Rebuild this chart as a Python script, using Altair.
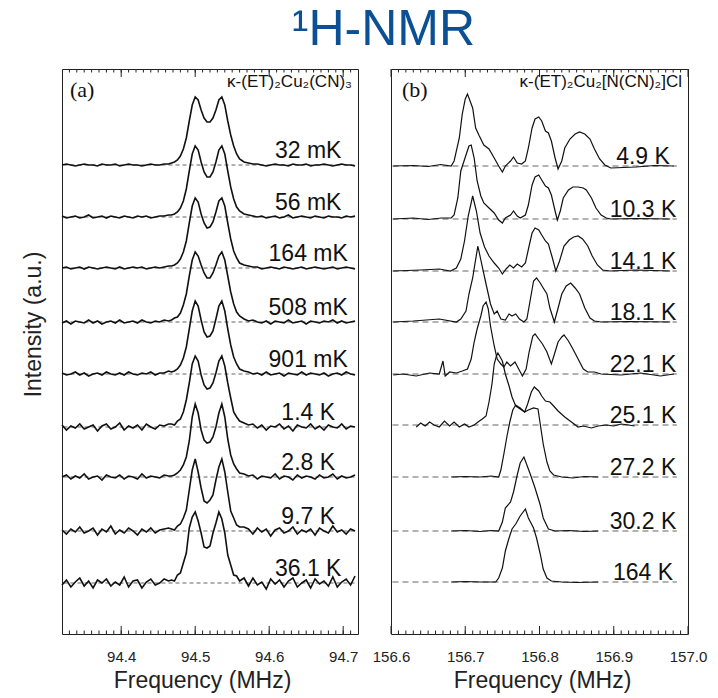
import altair as alt
import pandas as pd

FONT = "Liberation Sans"
INK = "#111111"
H = 565          # plot height (y units == pixels)
WA, WB = 296, 297

# ---------------- panel (a): kappa-(ET)2Cu2(CN)3 ----------------
A_LABELS = ["32 mK", "56 mK", "164 mK", "508 mK", "901 mK", "1.4 K", "2.8 K", "9.7 K", "36.1 K"]
A_BASE = [469, 417, 366, 312, 260, 207, 157, 103, 51]

A_FREQ_LEFT = [94.320, 94.326, 94.332, 94.338, 94.344, 94.350, 94.356, 94.362, 94.368, 94.374,
               94.380, 94.386, 94.392, 94.398, 94.404, 94.410, 94.416, 94.422, 94.428, 94.434,
               94.440, 94.446, 94.452, 94.458, 94.464]
A_FREQ_PEAK = [94.468, 94.472, 94.476, 94.480, 94.484, 94.488, 94.492, 94.496, 94.500, 94.504,
               94.508, 94.512, 94.516, 94.520, 94.524, 94.528, 94.532, 94.536, 94.540, 94.544,
               94.548, 94.552, 94.556, 94.560]
A_FREQ_RIGHT = [94.566, 94.572, 94.578, 94.584, 94.590, 94.596, 94.602, 94.608, 94.614, 94.620,
                94.626, 94.632, 94.638, 94.644, 94.650, 94.656, 94.662, 94.668, 94.674, 94.680,
                94.686, 94.692, 94.698, 94.704, 94.710, 94.716]

A_LEFT = [
    [0, 1, 0, -1, 0, 1, 0, 0, -1, 1, 0, 0, 1, -1, 0, 1, 0, 0, -1, 0, 1, 0, 0, 1, 1],
    [1, -1, 0, 1, -1, 0, 2, -1, 0, 1, -1, 1, 0, -1, 1, 0, -1, 1, 0, 1, -1, 0, 1, 1, 2],
    [0, 1, -1, 0, 1, -1, 1, 0, -1, 0, 1, 0, -1, 1, -1, 0, 1, 0, 1, -1, 0, 1, 0, 1, 2],
    [-1, 1, -2, 1, 0, -1, 2, -1, 1, -2, 0, 1, -1, 2, -1, 0, 1, -1, 2, 0, -1, 1, 0, 2, 1],
    [1, -1, 0, 2, -1, 1, -2, 0, 1, -1, 2, 0, -1, 1, -1, 2, 0, -1, 1, 0, 2, -1, 1, 1, 3],
    [2, -3, 1, -1, 3, -2, 0, 2, -4, 1, 3, -2, 0, 4, -3, 1, -1, 2, -3, 3, 0, -2, 2, 1, 3],
    [0, 2, -2, 1, -1, 3, -2, 0, 1, -3, 2, 0, -1, 2, -2, 1, 0, -2, 3, -1, 1, 0, -1, 2, 1],
    [1, -3, 2, -1, 4, -2, 0, 3, -4, 2, -1, 5, -3, 1, -2, 3, 0, -4, 2, -1, 3, -2, 1, 2, 3],
    [-2, 3, -4, 1, 5, -3, 2, -5, 3, 0, 4, -3, 1, -2, 6, -4, 2, 3, -5, 1, 4, -2, 0, 4, 2],
]
A_PEAK = [
    [2, 3, 5, 9, 16, 27, 44, 60, 68, 65, 55, 47, 43, 43, 47, 55, 65, 68, 60, 44, 30, 19, 11, 6],
    [2, 3, 5, 9, 16, 28, 46, 63, 71, 67, 55, 45, 40, 40, 45, 55, 67, 71, 63, 46, 30, 18, 10, 6],
    [2, 3, 5, 9, 16, 27, 45, 62, 70, 66, 54, 45, 40, 41, 46, 56, 67, 70, 62, 45, 29, 17, 10, 5],
    [2, 4, 5, 9, 17, 28, 46, 62, 70, 66, 57, 49, 44, 44, 49, 57, 66, 70, 62, 46, 30, 18, 10, 6],
    [2, 3, 5, 9, 16, 27, 45, 63, 73, 68, 54, 42, 37, 38, 43, 55, 68, 73, 63, 45, 29, 17, 10, 5],
    [3, 2, 6, 8, 15, 27, 44, 63, 71, 66, 52, 42, 38, 39, 44, 54, 66, 71, 61, 44, 29, 15, 10, 6],
    [1, 2, 4, 7, 12, 20, 36, 60, 73, 64, 47, 37, 34, 35, 40, 50, 64, 73, 60, 38, 22, 13, 8, 4],
    [2, 1, 5, 7, 13, 21, 41, 61, 72, 59, 43, 30, 28, 31, 36, 51, 64, 72, 59, 39, 20, 13, 6, 4],
    [3, 2, 8, 10, 20, 30, 55, 66, 71, 62, 50, 36, 35, 37, 50, 60, 71, 64, 50, 28, 18, 8, 7, 2],
]
A_RIGHT = [
    [3, 2, 1, 1, 0, -1, 0, 1, 0, 0, -1, 1, 0, 0, 1, -1, 0, 0, 1, 0, -1, 0, 1, 0, 0, -1],
    [3, 2, 1, 0, 1, -1, 0, 1, -1, 0, 2, -1, 0, 1, 0, -1, 1, 0, -1, 1, 0, 0, -1, 1, 0, 1],
    [3, 2, 1, 1, -1, 0, 1, 0, -1, 1, 0, -1, 0, 1, -1, 0, 1, 0, -1, 0, 1, -1, 0, 1, 0, -1],
    [3, 1, 2, 0, -1, 1, -2, 1, 0, -1, 2, -1, 0, 1, -2, 1, 0, -1, 1, 0, 2, -1, 1, -1, 0, 1],
    [3, 2, 0, 1, -1, 2, -1, 0, 1, -2, 1, 0, -1, 2, -1, 1, 0, -1, 1, -2, 0, 1, -1, 2, 0, -1],
    [4, 2, 3, -1, 2, -3, 1, 0, 3, -2, 1, -4, 2, 0, -1, 3, -2, 1, -3, 2, 0, -1, 3, -2, 1, 0],
    [3, 1, 2, -2, 1, 0, -1, 3, -2, 1, 0, -3, 2, -1, 1, 0, -2, 2, -1, 0, 3, -2, 1, -1, 0, 2],
    [4, 2, -3, 3, -1, 2, -5, 1, 3, -2, 0, 4, -3, 1, -1, 2, -4, 3, 0, -2, 5, -1, 1, -3, 2, 0],
    [5, -3, 5, -2, 1, -6, 4, -1, 3, -4, 2, 5, -4, 0, 3, -5, 4, -1, 2, -3, 6, -4, 1, 4, -2, 7],
]

# ---------------- panel (b): kappa-(ET)2Cu2[N(CN)2]Cl ----------------
B_LABELS = ["4.9 K", "10.3 K", "14.1 K", "18.1 K", "22.1 K", "25.1 K", "27.2 K", "30.2 K", "164 K"]
B_BASE = [468, 415, 363, 312, 260, 209, 157, 103, 52]

B_FREQ = [
    [156.603, 156.630, 156.650, 156.667, 156.681, 156.685, 156.692, 156.696, 156.700, 156.703,
     156.710, 156.714, 156.719, 156.725, 156.732, 156.739, 156.745, 156.750, 156.754, 156.761,
     156.765, 156.770, 156.776, 156.781, 156.785, 156.790, 156.794, 156.799, 156.803, 156.808,
     156.812, 156.816, 156.821, 156.825, 156.830, 156.834, 156.841, 156.848, 156.854, 156.861,
     156.868, 156.874, 156.881, 156.888, 156.896, 156.930, 156.955, 156.981],
    [156.603, 156.630, 156.650, 156.668, 156.681, 156.685, 156.690, 156.694, 156.701, 156.705,
     156.708, 156.712, 156.716, 156.721, 156.725, 156.732, 156.739, 156.745, 156.750, 156.754,
     156.761, 156.765, 156.770, 156.774, 156.781, 156.785, 156.790, 156.794, 156.799, 156.803,
     156.808, 156.812, 156.816, 156.821, 156.824, 156.828, 156.832, 156.839, 156.845, 156.852,
     156.859, 156.863, 156.870, 156.876, 156.883, 156.890, 156.896, 156.930, 156.976],
    [156.603, 156.640, 156.665, 156.680, 156.688, 156.694, 156.699, 156.704, 156.710, 156.715,
     156.720, 156.726, 156.732, 156.739, 156.745, 156.750, 156.755, 156.760, 156.765, 156.770,
     156.776, 156.781, 156.786, 156.790, 156.794, 156.799, 156.803, 156.808, 156.812, 156.817,
     156.822, 156.827, 156.833, 156.840, 156.846, 156.852, 156.858, 156.865, 156.871, 156.878,
     156.885, 156.895, 156.930, 156.976],
    [156.603, 156.630, 156.665, 156.688, 156.694, 156.701, 156.705, 156.710, 156.713, 156.717,
     156.721, 156.728, 156.734, 156.739, 156.743, 156.748, 156.754, 156.759, 156.763, 156.768,
     156.773, 156.779, 156.783, 156.788, 156.792, 156.796, 156.801, 156.805, 156.810, 156.814,
     156.820, 156.824, 156.830, 156.836, 156.842, 156.848, 156.854, 156.861, 156.868, 156.874,
     156.883, 156.920, 156.976],
    [156.603, 156.616, 156.634, 156.652, 156.665, 156.670, 156.673, 156.679, 156.688, 156.696,
     156.703, 156.708, 156.712, 156.716, 156.721, 156.724, 156.728, 156.731, 156.734, 156.739,
     156.743, 156.748, 156.752, 156.756, 156.761, 156.767, 156.772, 156.777, 156.782, 156.786,
     156.791, 156.794, 156.799, 156.804, 156.810, 156.816, 156.821, 156.825, 156.830, 156.833,
     156.839, 156.845, 156.852, 156.859, 156.865, 156.874, 156.883, 156.910, 156.936, 156.963,
     156.981],
    [156.634, 156.640, 156.646, 156.652, 156.658, 156.665, 156.672, 156.679, 156.685, 156.692,
     156.699, 156.705, 156.712, 156.719, 156.723, 156.728, 156.732, 156.736, 156.739, 156.742,
     156.744, 156.750, 156.754, 156.759, 156.763, 156.768, 156.774, 156.780, 156.784, 156.789,
     156.793, 156.799, 156.803, 156.808, 156.814, 156.819, 156.825, 156.834, 156.843, 156.852,
     156.859, 156.870, 156.879, 156.890, 156.900, 156.910, 156.920, 156.928],
    [156.681, 156.700, 156.720, 156.735, 156.745, 156.748, 156.752, 156.756, 156.760, 156.764,
     156.768, 156.774, 156.780, 156.785, 156.792, 156.798, 156.801, 156.805, 156.810, 156.814,
     156.819, 156.830, 156.845, 156.860, 156.879],
    [156.681, 156.700, 156.720, 156.735, 156.745, 156.750, 156.754, 156.761, 156.765, 156.770,
     156.774, 156.779, 156.783, 156.788, 156.794, 156.801, 156.805, 156.812, 156.821, 156.840,
     156.860, 156.879],
    [156.681, 156.700, 156.720, 156.741, 156.745, 156.750, 156.754, 156.759, 156.763, 156.768,
     156.774, 156.781, 156.785, 156.792, 156.796, 156.801, 156.805, 156.810, 156.816, 156.830,
     156.850, 156.879],
]
B_INT = [
    [0, 0.5, -0.5, 1.5, 0, 5, 28, 52, 67, 72, 58, 38, 30, 21, 17, 8, 0, -6, 0, 5,
     9, 3, 2, 5, 18, 38, 47, 49, 45, 35, 33, 25, 8, -3, 5, 18, 27, 32, 34, 32,
     27, 17, 7, 1, -2, -1, 0.5, 0],
    [0, 1, -0.5, 1, 1, 4, 21, 48, 64, 73, 74, 61, 38, 23, 16, 11, 6, -1, -4, 1,
     4, 8, 3, 1, 4, 14, 34, 42, 44, 39, 33, 31, 24, 8, -1, 8, 21, 29, 32, 32,
     31, 29, 21, 11, 4, 1, 0, 0.5, 0],
    [0, 1, 2, 0, 3, 12, 30, 55, 75, 60, 38, 24, 15, 8, 3, -3, 2, 6, 3, 7,
     4, 8, 25, 38, 43, 41, 36, 30, 27, 14, 0, 10, 25, 31, 34, 35, 32, 25, 15, 6,
     1, 0, 1, 0],
    [0, 1, 3, 0, 3, 11, 28, 44, 58, 76, 62, 38, 18, 8, 11, 3, 2, 8, 6, 8,
     3, 0, 3, 24, 41, 44, 39, 34, 28, 14, 0, 11, 28, 36, 39, 34, 28, 14, 4, 1,
     0, 0.5, 0],
    [-1, 0, -2, 1, 0, 13, -2, 2, 1, 3, 5, 15, 32, 45, 58, 68, 72, 65, 48, 28,
     15, 10, 7, 12, 8, 12, 5, -2, 5, 22, 38, 40, 35, 30, 22, 10, 22, 32, 37, 39,
     33, 25, 15, 5, 2, 2, 0, -1, 1, -2, 0],
    [-2, 2, -1, 3, 0, -2, 4, -1, 3, -2, 1, -2, 0, 4, 6, 9, 23, 41, 61, 69,
     72, 64, 51, 39, 28, 19, 16, 13, 21, 33, 38, 34, 29, 24, 23, 19, 14, 8, 3, -2,
     -1, -3, -1, 0, -1, 1, 0, -1],
    [0, 0.5, 0, 1, 0, 7, 23, 40, 55, 67, 72, 69, 65, 67, 69, 68, 53, 33, 15, 6,
     2, 0, -1, 0.5, 0],
    [0, 0.5, -0.5, 0.5, 0, 9, 23, 29, 39, 56, 68, 74, 66, 56, 43, 26, 13, 2, 0, 0.5,
     -0.5, 0],
    [0, 0.5, 0, 0, 4, 14, 31, 44, 53, 58, 66, 73, 64, 54, 44, 28, 13, 4, 1, 0,
     -0.5, 0],
]

A_TICKS_MAJOR = [94.4, 94.5, 94.6, 94.7]
B_TICKS_MAJOR = [156.6, 156.7, 156.8, 156.9, 157.0]
A_TICKS_MINOR = [round(94.33 + 0.01 * k, 2) for k in range(39)]
B_TICKS_MINOR = [round(156.61 + 0.01 * k, 2) for k in range(39)]

# ---------------- tables ----------------
A_FREQ = A_FREQ_LEFT + A_FREQ_PEAK + A_FREQ_RIGHT
rows_a = []
for i, lab in enumerate(A_LABELS):
    h = A_LEFT[i] + A_PEAK[i] + A_RIGHT[i]
    assert len(h) == len(A_FREQ), (lab, len(h))
    for k, (f, v) in enumerate(zip(A_FREQ, h)):
        rows_a.append({"f": f, "y": A_BASE[i] + v, "s": lab, "k": k})
df_a = pd.DataFrame(rows_a)

rows_b = []
for i, lab in enumerate(B_LABELS):
    assert len(B_FREQ[i]) == len(B_INT[i]), (lab, len(B_FREQ[i]), len(B_INT[i]))
    for k, (f, v) in enumerate(zip(B_FREQ[i], B_INT[i])):
        rows_b.append({"f": f, "y": B_BASE[i] + v, "s": lab, "k": k})
df_b = pd.DataFrame(rows_b)

dash_a = pd.DataFrame({"f0": 94.322, "f1": 94.716, "y": A_BASE})
dash_b = pd.DataFrame({"f0": 156.602, "f1": 156.985, "y": B_BASE})
lab_a = pd.DataFrame({"f": 94.6527, "y": [b + 7 for b in A_BASE], "s": A_LABELS})
lab_b = pd.DataFrame({"f": 156.9394, "y": [b + 2 for b in B_BASE], "s": B_LABELS})

yscale = alt.Scale(domain=[0, H], nice=False, zero=False)
xa_scale = alt.Scale(domain=[94.32, 94.72], nice=False, zero=False)
xb_scale = alt.Scale(domain=[156.6, 157.0], nice=False, zero=False)


def x_axis(values, title_x):
    return alt.Axis(title="Frequency (MHz)", values=values, format=".1f", labelFlush=False,
                    ticks=False, tickSize=0, domain=False, grid=False,
                    labelFont=FONT, labelFontSize=15, labelColor="#222", labelPadding=15,
                    titleFont=FONT, titleFontSize=23, titleFontWeight="normal", titleColor="#222",
                    titleY=53, titleX=title_x, titleAlign="center", titleBaseline="alphabetic")


y_axis_a = alt.Axis(title="Intensity (a.u.)", labels=False, ticks=False, tickSize=0, domain=False,
                    grid=False, titleFont=FONT, titleFontSize=23, titleFontWeight="normal",
                    titleColor="#222", titleX=-29, titleY=255, titleBaseline="middle")


def panel(df, dash, labs, xscale, xaxis, yaxis, ticks_major, ticks_minor, tag, formula,
          tag_f, formula_f, stroke_w, dash_pat):
    X = lambda fld: alt.X(fld, scale=xscale, axis=xaxis)
    Y = lambda fld: alt.Y(fld, scale=yscale, axis=yaxis)
    dashed = alt.Chart(dash).mark_rule(color="#666", strokeWidth=1.1, strokeDash=dash_pat).encode(
        x=X("f0:Q"), x2="f1:Q", y=Y("y:Q"))
    lines = alt.Chart(df).mark_line(color=INK, strokeWidth=stroke_w, interpolate="linear").encode(
        x=X("f:Q"), y=Y("y:Q"), detail="s:N", order="k:Q")
    labels = alt.Chart(labs).mark_text(font=FONT, fontSize=23, color=INK, align="center",
                                       baseline="alphabetic").encode(
        x=X("f:Q"), y=Y("y:Q"), text="s:N")
    ann = pd.DataFrame({"f": [tag_f], "y": [537], "t": [tag]})
    tag_layer = alt.Chart(ann).mark_text(font="Liberation Serif", fontSize=22, color=INK,
                                         align="left", baseline="alphabetic").encode(
        x=X("f:Q"), y=Y("y:Q"), text="t:N")
    ann2 = pd.DataFrame({"f": [formula_f], "y": [547], "t": [formula]})
    formula_layer = alt.Chart(ann2).mark_text(font=FONT, fontSize=17, color=INK,
                                              align="right", baseline="alphabetic").encode(
        x=X("f:Q"), y=Y("y:Q"), text="t:N")
    tmaj = pd.DataFrame({"t": ticks_major})
    tmin = pd.DataFrame({"t": ticks_minor})
    tick_layers = [
        alt.Chart(tmaj).mark_rule(color="#222", strokeWidth=1).encode(
            x=X("t:Q"), y=alt.value(H), y2=alt.value(H - 8)),
        alt.Chart(tmaj).mark_rule(color="#222", strokeWidth=1).encode(
            x=X("t:Q"), y=alt.value(0), y2=alt.value(8)),
        alt.Chart(tmin).mark_rule(color="#222", strokeWidth=1).encode(
            x=X("t:Q"), y=alt.value(H), y2=alt.value(H - 3.5)),
        alt.Chart(tmin).mark_rule(color="#222", strokeWidth=1).encode(
            x=X("t:Q"), y=alt.value(0), y2=alt.value(3.5)),
    ]
    return alt.layer(dashed, lines, labels, tag_layer, formula_layer, *tick_layers)


pa = panel(df_a, dash_a, lab_a, xa_scale, x_axis([94.4, 94.5, 94.6, 94.7], 140), y_axis_a,
           A_TICKS_MAJOR, A_TICKS_MINOR, "(a)", "κ-(ET)₂Cu₂(CN)₃", 94.3308, 94.7119,
           1.6, [4, 3]).properties(width=WA, height=H)
pb = panel(df_b, dash_b, lab_b, xb_scale,
           x_axis([156.6, 156.7, 156.8, 156.9, 157.0], 151), None,
           B_TICKS_MAJOR, B_TICKS_MINOR, "(b)", "κ-(ET)₂Cu₂[N(CN)₂]Cl", 156.6148, 156.9919,
           1.2, [6, 4]).properties(width=WB, height=H)

chart = alt.hconcat(pa, pb, spacing=33, bounds="flush").properties(
    title=alt.TitleParams("¹H-NMR", font=FONT, fontSize=50, fontWeight="normal",
                          color="#0B4F95", anchor="middle", offset=13, dx=19),
    padding={"left": 21, "top": 5, "right": 5, "bottom": 5},
).configure_view(stroke="#222", strokeWidth=1)

chart.save("out.html", embed_options={"renderer": "svg", "actions": False})
